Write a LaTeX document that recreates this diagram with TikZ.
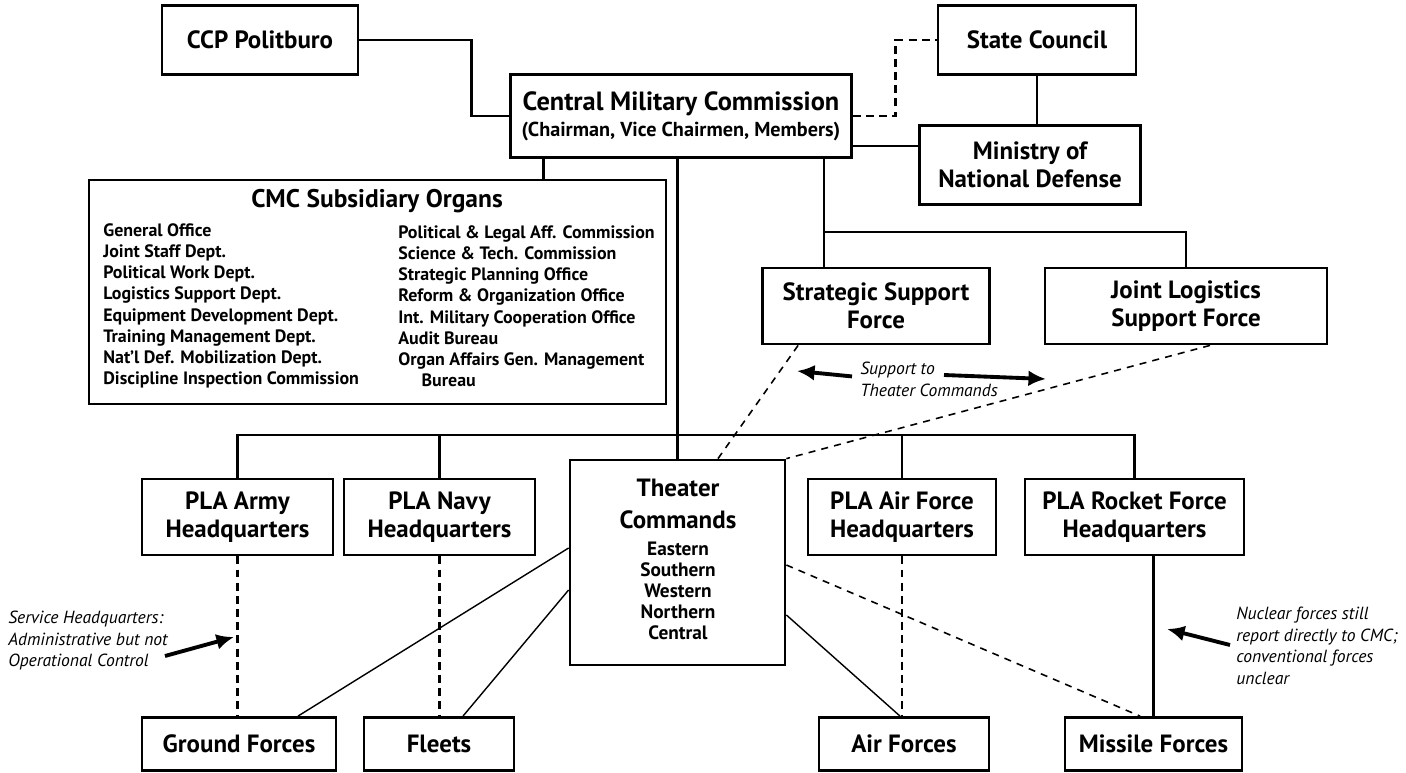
\documentclass[tikz,border=0pt]{standalone}
\usepackage{fontspec}
\setmainfont{PT Sans}
\usetikzlibrary{arrows.meta,positioning,calc}

\tikzset{
  unit/.style={draw, line width=1.6pt, align=center, inner sep=2pt,
    font=\fontsize{14.2}{15.9}\selectfont\bfseries},
  link/.style={line width=1.4pt},
  dashlink/.style={line width=1.6pt, dash pattern=on 4.5pt off 3pt},
  thinlink/.style={line width=0.8pt},
  thindash/.style={line width=0.9pt, dash pattern=on 4pt off 3.5pt},
  note/.style={font=\fontsize{10}{12.2}\selectfont\itshape, align=left, inner sep=0pt},
  orglist/.style={font=\fontsize{10.2}{12.1}\selectfont\bfseries, align=left, inner sep=0pt},
  callout/.style={line width=2.2pt, -{Latex[length=10pt,width=9pt]}},
}

\begin{document}
\begin{tikzpicture}[x=0.02cm, y=-0.02cm]
\useasboundingbox (0,0) rectangle (1406,773);

% Top level
\node[unit, minimum width=3.92cm, minimum height=1.38cm] (polit) at (260,40) {CCP Politburo};
\node[unit, minimum width=3.96cm, minimum height=1.38cm] (state) at (1037,40) {State Council};
\node[unit, minimum width=6.82cm, minimum height=1.66cm] (cmc) at (681,116)
  {\fontsize{15}{15.9}\selectfont Central Military Commission\\[-1.3pt]{\fontsize{11.5}{13}\selectfont (Chairman, Vice Chairmen, Members)}};
\node[unit, minimum width=4.42cm, minimum height=1.58cm] (mnd) at (1030,165) {Ministry of\\National Defense};

% CMC subsidiary organs
\node[unit, minimum width=11.54cm, minimum height=4.48cm] (organs) at (377.5,292) {};
\node[font=\fontsize{14.5}{17}\selectfont\bfseries, inner sep=0pt] (orgtitle) at (377,201) {CMC Subsidiary Organs};
\node[orglist, anchor=north west] (orgleft) at (103,223) {General Office\\Joint Staff Dept.\\Political Work Dept.\\Logistics Support Dept.\\Equipment Development Dept.\\Training Management Dept.\\Nat'l Def. Mobilization Dept.\\Discipline Inspection Commission};
\node[orglist, anchor=north west] (orgright) at (398,225) {Political \& Legal Aff. Commission\\Science \& Tech. Commission\\Strategic Planning Office\\Reform \& Organization Office\\Int. Military Cooperation Office\\Audit Bureau\\Organ Affairs Gen. Management\\\hspace*{1.3em}Bureau};

% Support forces
\node[unit, minimum width=4.54cm, minimum height=1.52cm] (ssf) at (876,306) {Strategic Support\\Force};
\node[unit, minimum width=5.64cm, minimum height=1.52cm] (jlsf) at (1186,306) {Joint Logistics\\Support Force};

% Services and theaters
\node[unit, minimum width=3.82cm, minimum height=1.52cm] (army) at (237.5,517) {PLA Army\\Headquarters};
\node[unit, minimum width=3.82cm, minimum height=1.52cm] (navy) at (439.5,517) {PLA Navy\\Headquarters};
\node[unit, minimum width=4.3cm, minimum height=4.1cm] (theater) at (677.5,562.5) {};
\node[font=\fontsize{14.2}{18}\selectfont\bfseries, align=center, inner sep=0pt] (thname) at (678,504) {Theater\\Commands};
\node[font=\fontsize{11}{12}\selectfont\bfseries, align=center, inner sep=0pt] (thlist) at (678,591) {Eastern\\Southern\\Western\\Northern\\Central};
\node[unit, minimum width=3.76cm, minimum height=1.52cm] (airhq) at (902,517) {PLA Air Force\\Headquarters};
\node[unit, minimum width=4.38cm, minimum height=1.52cm] (rocket) at (1134.5,517) {PLA Rocket Force\\Headquarters};

% Forces
\node[unit, minimum width=3.88cm, minimum height=1.06cm] (ground) at (239,744) {Ground Forces};
\node[unit, minimum width=3.0cm, minimum height=1.06cm] (fleets) at (439,744) {Fleets};
\node[unit, minimum width=3.4cm, minimum height=1.06cm] (airf) at (904,744) {Air Forces};
\node[unit, minimum width=3.54cm, minimum height=1.06cm] (missile) at (1153.5,744) {Missile Forces};

% CMC links
\draw[link] (polit.east) -- ++(112,0) |- (cmc.west);
\draw[dashlink] (cmc.east) -- ++(43,0) |- (state.west);
\coordinate (cmcR) at ([yshift=-0.6cm]cmc.east);
\draw[link] (cmcR) -- (cmcR -| mnd.west);
\draw[link] (state.south) -- (state.south |- mnd.north);
\draw[link] ([xshift=0.69cm]cmc.south west) coordinate (orgtop) -- (orgtop |- organs.north);
\draw[link] (theater.north |- cmc.south) -- (theater.north);
\coordinate (ssftop) at ([xshift=1.26cm]ssf.north west);
\coordinate (fork) at (ssftop |- 0,232);
\draw[link] (ssftop |- cmc.south) -- (ssftop);
\draw[link] (fork) -| (jlsf.north);

% Service bus
\coordinate (bus) at (0,435);
\draw[link] (army.north) |- (rocket.north |- bus) -- (rocket.north);
\draw[link] (navy.north) -- (navy.north |- bus);
\draw[link] (airhq.north) -- (airhq.north |- bus);

% Administrative control
\draw[dashlink] (army.south) -- (army.south |- ground.north);
\draw[dashlink] (navy.south) -- (navy.south |- fleets.north);
\draw[dashlink] (airhq.south) -- (airhq.south |- airf.north);
\draw[link] (missile.north |- rocket.south) -- (missile.north);

% Operational control
\draw[thinlink] ([yshift=0.29cm]theater.west) -- ([xshift=1.18cm]ground.north);
\draw[thinlink] ([yshift=-0.55cm]theater.west) -- ([xshift=0.48cm]fleets.north);
\draw[thinlink] ([yshift=-1.05cm]theater.east) -- ([xshift=-0.08cm]airf.north);
\draw[thindash] ([yshift=-0.05cm]theater.east) -- ([xshift=-0.27cm]missile.north);
\draw[thindash] ([xshift=0.74cm]ssf.south west) -- ([xshift=0.81cm]theater.north);
\draw[thindash] ([xshift=0.48cm]jlsf.south) -- (theater.north east);

% Notes
\node[note, anchor=north west] (sup) at (860,362) {Support to\\Theater Commands};
\node[note, anchor=north west] (svc) at (8,611) {Service Headquarters:\\Administrative but not\\Operational Control};
\node[note, anchor=north west] (nuc) at (1236,607) {Nuclear forces still\\report directly to CMC;\\conventional forces\\unclear};
\coordinate (supL) at (797,371);
\coordinate (supR) at (1046,379);
\coordinate (svcH) at (234,637);
\coordinate (nucH) at (1167,629);
\draw[callout] ([xshift=-0.16cm,yshift=0.06cm]sup.west) -- (supL);
\draw[callout] (944,375) -- (supR);
\draw[callout] (165,656) -- (svcH);
\draw[callout] (1230,645) -- (nucH);

\end{tikzpicture}
\end{document}
